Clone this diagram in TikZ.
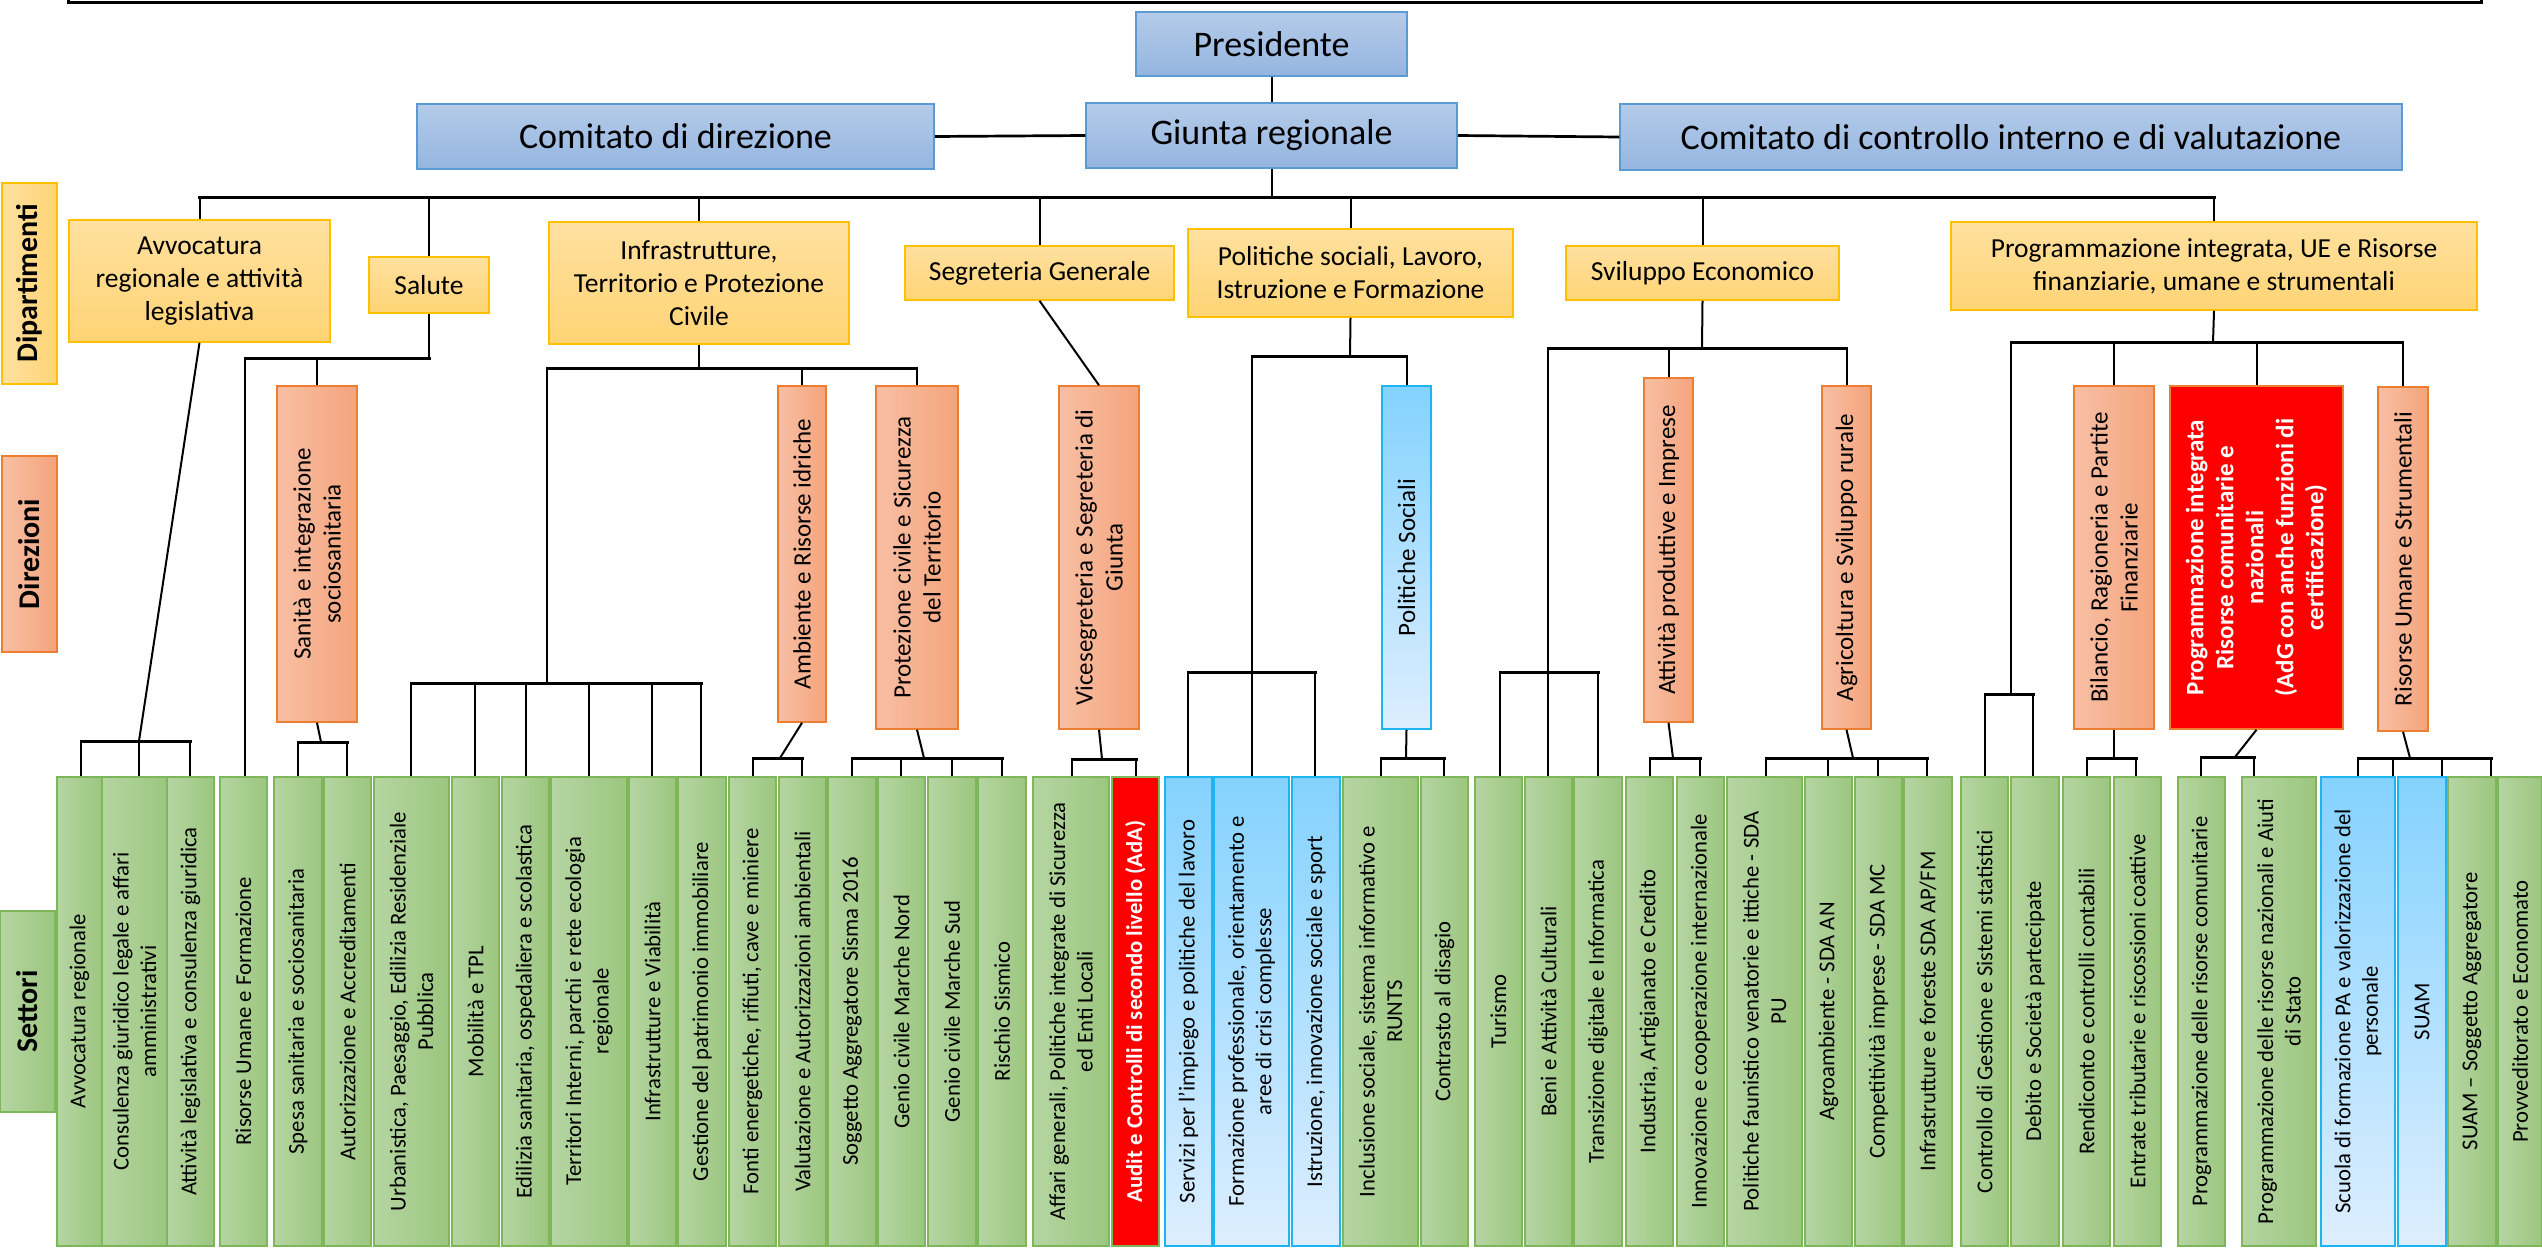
\documentclass[tikz,border=0pt]{standalone}
\usepackage{fontspec}
\setmainfont{Carlito}
\definecolor{topT}{HTML}{B4CBE9}
\definecolor{topB}{HTML}{95B5E0}
\definecolor{topD}{HTML}{5B9BD5}
\definecolor{depT}{HTML}{FFE09F}
\definecolor{depB}{HTML}{FFD475}
\definecolor{depD}{HTML}{FFC000}
\definecolor{dirL}{HTML}{F8BFA4}
\definecolor{dirR}{HTML}{F4A47C}
\definecolor{dirD}{HTML}{ED7D31}
\definecolor{setL}{HTML}{B5D5A2}
\definecolor{setR}{HTML}{9CC67F}
\definecolor{setD}{HTML}{7EB65A}
\definecolor{bluT}{HTML}{84D2FF}
\definecolor{bluB}{HTML}{DDEEFF}
\definecolor{bluD}{HTML}{1EB4F0}
\definecolor{redF}{HTML}{FF0000}
\tikzset{
 conn/.style={line width=2pt, black},
 busline/.style={line width=3pt, black, line cap=rect},
 topbox/.style={draw=topD, line width=1.5pt, top color=topT, bottom color=topB, inner sep=0pt, font=\fontsize{36}{43}\selectfont},
 depbox/.style={draw=depD, line width=1.5pt, top color=depT, bottom color=depB, inner sep=0pt, align=center, font=\fontsize{27.5}{33}\selectfont},
 dirbox/.style={rotate=90, draw=dirD, line width=1.5pt, left color=dirL, right color=dirR, inner sep=0pt, align=center, font=\fontsize{25}{30}\selectfont},
 dirblue/.style={rotate=90, draw=bluD, line width=1.5pt, top color=bluT, bottom color=bluB, inner sep=0pt, align=center, font=\fontsize{25}{30}\selectfont},
 dirred/.style={rotate=90, draw=dirD, line width=1.5pt, fill=redF, text=white, inner sep=0pt, align=center, font=\fontsize{25}{30}\selectfont\bfseries},
 setbox/.style={rotate=90, draw=setD, line width=1.2pt, left color=setL, right color=setR, inner sep=0pt, align=center, font=\fontsize{22.7}{27.5}\selectfont},
 setblue/.style={rotate=90, draw=bluD, line width=1.2pt, top color=bluT, bottom color=bluB, inner sep=0pt, align=center, font=\fontsize{22.7}{27.5}\selectfont},
 setred/.style={rotate=90, draw=setD, line width=1.2pt, fill=redF, text=white, inner sep=0pt, align=center, font=\fontsize{22.7}{27.5}\selectfont\bfseries},
 labdep/.style={rotate=90, draw=depD, line width=1.5pt, left color=depT, right color=depB, inner sep=0pt, font=\fontsize{30}{36}\selectfont\bfseries},
 labdir/.style={rotate=90, draw=dirD, line width=1.5pt, left color=dirL, right color=dirR, inner sep=0pt, font=\fontsize{30}{36}\selectfont\bfseries},
 labset/.style={rotate=90, draw=setD, line width=1.5pt, left color=setL, right color=setR, inner sep=0pt, font=\fontsize{30}{36}\selectfont\bfseries},
}
% horizontal box: name, style, x1, y1, x2, y2, text
\newcommand\boxH[7]{\node[#2, minimum width={(#5-#3)*1pt}, minimum height={(#6-#4)*1pt}] (#1) at ({(#3+#5)/2},{(#4+#6)/2}) {#7};}
% rotated box: name, style, x1, y1, x2, y2, text
\newcommand\boxV[7]{\node[#2, minimum width={(#6-#4)*1pt}, minimum height={(#5-#3)*1pt}] (#1) at ({(#3+#5)/2},{(#4+#6)/2}) {#7};}
% settore: [style] name x1 x2 text
\newcommand\sett[5][setbox]{\boxV{#2}{#1}{#3}{777}{#4}{1246}{#5}}
% drop line from bus point to top of a settore
\newcommand\drop[3]{\draw[conn] (#1,#2) -- (#1,#2 |- #3.east);}
\begin{document}
\begin{tikzpicture}[x=1pt,y=-1pt]
\useasboundingbox (0,0) rectangle (2542,1247);
\fill[white] (0,0) rectangle (2542,1247);
% frame (bottom part visible)
\draw[line width=3pt] (68,-30) -- (68,2.5) -- (2481,2.5) -- (2481,-30);

% top level
\boxH{pres}{topbox}{1136}{12}{1407}{76}{Presidente}
\boxH{comdir}{topbox}{417}{104}{934}{169}{Comitato di direzione}
\boxH{giunta}{topbox}{1086}{103}{1457}{168}{Giunta regionale}
\boxH{comctrl}{topbox}{1620}{104}{2402}{170}{Comitato di controllo interno e di valutazione}

% row labels
\boxV{labDip}{labdep}{2}{183}{57}{384}{Dipartimenti}
\boxV{labDir}{labdir}{2}{456}{57}{652}{Direzioni}
\boxV{labSet}{labset}{0}{911}{55}{1112}{Settori}

% dipartimenti
\boxH{d1}{depbox}{69}{220}{330}{342}{Avvocatura\\regionale e attività\\legislativa}
\boxH{d2}{depbox}{369}{257}{489}{313}{Salute}
\boxH{d3}{depbox}{549}{222}{849}{344}{Infrastrutture,\\Territorio e Protezione\\Civile}
\boxH{d4}{depbox}{905}{246}{1174}{300}{Segreteria Generale}
\boxH{d5}{depbox}{1188}{229}{1513}{317}{Politiche sociali, Lavoro,\\Istruzione e Formazione}
\boxH{d6}{depbox}{1566}{246}{1839}{300}{Sviluppo Economico}
\boxH{d7}{depbox}{1951}{222}{2477}{310}{Programmazione integrata, UE e Risorse\\finanziarie, umane e strumentali}

% direzioni
\boxV{r1}{dirbox}{277}{386}{357}{722}{Sanità e integrazione\\sociosanitaria}
\boxV{r2}{dirbox}{778}{386}{826}{722}{Ambiente e Risorse idriche}
\boxV{r3}{dirbox}{876}{386}{958}{729}{Protezione civile e Sicurezza\\del Territorio}
\boxV{r4}{dirbox}{1059}{386}{1139}{729}{Vicesegreteria e Segreteria di\\Giunta}
\boxV{r5}{dirblue}{1382}{386}{1431}{729}{Politiche Sociali}
\boxV{r6}{dirbox}{1644}{378}{1693}{722}{Attività produttive e Imprese}
\boxV{r7}{dirbox}{1822}{386}{1871}{729}{Agricoltura e Sviluppo rurale}
\boxV{r8}{dirbox}{2074}{386}{2154}{729}{Bilancio, Ragioneria e Partite\\Finanziarie}
\boxV{r9}{dirred}{2170}{386}{2343}{729}{Programmazione integrata\\Risorse comunitarie e\\nazionali\\(AdG con anche funzioni di\\certificazione)}
\boxV{r10}{dirbox}{2378}{387}{2428}{731}{Risorse Umane e Strumentali}

% settori
\sett{s1}{57}{102}{Avvocatura regionale}
\sett{s2}{102}{167}{Consulenza giuridico legale e affari\\amministrativi}
\sett{s3}{167}{214}{Attività legislativa e consulenza giuridica}
\sett{s4}{220}{267}{Risorse Umane e Formazione}
\sett{s5}{274}{322}{Spesa sanitaria e sociosanitaria}
\sett{s6}{324}{371}{Autorizzazione e Accreditamenti}
\sett{s7}{374}{449}{Urbanistica, Paesaggio, Edilizia Residenziale\\Pubblica}
\sett{s8}{452}{499}{Mobilità e TPL}
\sett{s9}{502}{549}{Edilizia sanitaria, ospedaliera e scolastica}
\sett{s10}{551}{627}{Territori Interni, parchi e rete ecologia\\regionale}
\sett{s11}{629}{676}{Infrastrutture e Viabilità}
\sett{s12}{678}{726}{Gestione del patrimonio immobiliare}
\sett{s13}{729}{776}{Fonti energetiche, rifiuti, cave e miniere}
\sett{s14}{779}{826}{Valutazione e Autorizzazioni ambientali}
\sett{s15}{828}{876}{Soggetto Aggregatore Sisma 2016}
\sett{s16}{878}{925}{Genio civile Marche Nord}
\sett{s17}{928}{976}{Genio civile Marche Sud}
\sett{s18}{978}{1026}{Rischio Sismico}
\sett{s19}{1033}{1109}{Affari generali, Politiche integrate di Sicurezza\\ed Enti Locali}
\sett[setred]{s20}{1112}{1159}{Audit e Controlli di secondo livello (AdA)}
\sett[setblue]{s21}{1165}{1212}{Servizi per l'impiego e politiche del lavoro}
\sett[setblue]{s22}{1214}{1289}{Formazione professionale, orientamento e\\aree di crisi complesse}
\sett[setblue]{s23}{1292}{1340}{Istruzione, innovazione sociale e sport}
\sett{s24}{1343}{1418}{Inclusione sociale, sistema informativo e\\RUNTS}
\sett{s25}{1421}{1468}{Contrasto al disagio}
\sett{s26}{1475}{1522}{Turismo}
\sett{s27}{1525}{1572}{Beni e Attività Culturali}
\sett{s28}{1574}{1622}{Transizione digitale e Informatica}
\sett{s29}{1626}{1673}{Industria, Artigianato e Credito}
\sett{s30}{1677}{1724}{Innovazione e cooperazione internazionale}
\sett{s31}{1727}{1802}{Politiche faunistico venatorie e ittiche - SDA\\PU}
\sett{s32}{1805}{1852}{Agroambiente - SDA AN}
\sett{s33}{1855}{1902}{Competitività imprese - SDA MC}
\sett{s34}{1904}{1952}{Infrastrutture e foreste SDA AP/FM}
\sett{s35}{1961}{2008}{Controllo di Gestione e Sistemi statistici}
\sett{s36}{2011}{2059}{Debito e Società partecipate}
\sett{s37}{2063}{2110}{Rendiconto e controlli contabili}
\sett{s38}{2114}{2161}{Entrate tributarie e riscossioni coattive}
\sett{s39}{2178}{2225}{Programmazione delle risorse comunitarie}
\sett{s40}{2242}{2316}{Programmazione delle risorse nazionali e Aiuti\\di Stato}
\sett[setblue]{s41}{2321}{2395}{Scuola di formazione PA e valorizzazione del\\personale}
\sett[setblue]{s42}{2398}{2446}{SUAM}
\sett{s43}{2448}{2496}{SUAM – Soggetto Aggregatore}
\sett{s44}{2498}{2542}{Provveditorato e Economato}

% ---------- connectors ----------
\draw[conn] (pres.south) -- (giunta.north);
\draw[line width=2.7pt] (comdir.east) -- (giunta.west);
\draw[line width=2.7pt] (giunta.east) -- (comctrl.west);
\coordinate (bus0) at (0,197);
\draw[conn] (giunta.south) -- (giunta.south |- bus0);
\draw[busline] (d1.north |- bus0) -- (d7.north |- bus0);
\foreach \n in {d1,d2,d3,d4,d5,d6,d7}{\draw[conn] (\n.north |- bus0) -- (\n.north);}

% Avvocatura
\coordinate (a1) at (139,741);
\draw[conn] (d1.south) -- (a1);
\draw[busline] (81,741) -- (190,741);
\drop{81}{741}{s1}\drop{139}{741}{s2}\drop{190}{741}{s3}

% Salute
\coordinate (b2) at (429,358);
\draw[conn] (d2.south) -- (b2);
\draw[busline] (245,358) -- (b2);
\drop{245}{358}{s4}
\draw[conn] (r1.east |- b2) -- (r1.east);
\coordinate (c1) at (321,742);
\draw[conn] (r1.west) -- (c1);
\draw[busline] (298,742) -- (347,742);
\drop{298}{742}{s5}\drop{347}{742}{s6}

% Infrastrutture
\coordinate (b3) at (699,368);
\draw[conn] (d3.south) -- (b3);
\draw[busline] (547,368) -- (916,368);
\draw[conn] (547,368) -- (547,683);
\draw[conn] (r2.east |- b3) -- (r2.east);
\draw[conn] (r3.east |- b3) -- (r3.east);
\draw[busline] (411,683) -- (701,683);
\drop{411}{683}{s7}\drop{475}{683}{s8}\drop{526}{683}{s9}\drop{589}{683}{s10}\drop{652}{683}{s11}\drop{701}{683}{s12}
\coordinate (c2) at (780,758);
\draw[conn] (r2.west) -- (c2);
\draw[busline] (753,758) -- (802,758);
\drop{753}{758}{s13}\drop{802}{758}{s14}
\coordinate (c3) at (924,758);
\draw[conn] (r3.west) -- (c3);
\draw[busline] (852,758) -- (1002,758);
\drop{852}{758}{s15}\drop{901}{758}{s16}\drop{952}{758}{s17}\drop{1002}{758}{s18}

% Segreteria
\draw[conn] (d4.south) -- (r4.east);
\coordinate (c4) at (1102,759);
\draw[conn] (r4.west) -- (c4);
\draw[busline] (1072,759) -- (1136,759);
\drop{1072}{759}{s19}\drop{1136}{759}{s20}

% Politiche sociali
\coordinate (b5) at (1350,356);
\draw[conn] (d5.south) -- (b5);
\draw[busline] (1252,356) -- (1406,356);
\draw[conn] (1252,356) -- (1252,672);
\draw[conn] (r5.east |- b5) -- (r5.east);
\draw[busline] (1188,672) -- (1315,672);
\drop{1188}{672}{s21}\drop{1252}{672}{s22}\drop{1315}{672}{s23}
\coordinate (c5) at (1406,758);
\draw[conn] (r5.west) -- (c5);
\draw[busline] (1381,758) -- (1444,758);
\drop{1381}{758}{s24}\drop{1444}{758}{s25}

% Sviluppo economico
\coordinate (b6) at (1702,348);
\draw[conn] (d6.south) -- (b6);
\draw[busline] (1548,348) -- (1846,348);
\draw[conn] (1548,348) -- (1548,672);
\draw[conn] (r6.east |- b6) -- (r6.east);
\draw[conn] (r7.east |- b6) -- (r7.east);
\draw[busline] (1500,672) -- (1598,672);
\drop{1500}{672}{s26}\drop{1548}{672}{s27}\drop{1598}{672}{s28}
\coordinate (c6) at (1673,758);
\draw[conn] (r6.west) -- (c6);
\draw[busline] (1650,758) -- (1700,758);
\drop{1650}{758}{s29}\drop{1700}{758}{s30}
\coordinate (c7) at (1853,758);
\draw[conn] (r7.west) -- (c7);
\draw[busline] (1766,758) -- (1927,758);
\drop{1766}{758}{s31}\drop{1828}{758}{s32}\drop{1878}{758}{s33}\drop{1927}{758}{s34}

% Programmazione
\coordinate (b7) at (2213,342);
\draw[conn] (d7.south) -- (b7);
\draw[busline] (2011,342) -- (2402,342);
\draw[conn] (2011,342) -- (2011,694);
\draw[conn] (r8.east |- b7) -- (r8.east);
\draw[conn] (r9.east |- b7) -- (r9.east);
\draw[conn] (r10.east |- b7) -- (r10.east);
\draw[busline] (1985,694) -- (2033,694);
\drop{1985}{694}{s35}\drop{2033}{694}{s36}
\coordinate (c8) at (2114,758);
\draw[conn] (r8.west) -- (c8);
\draw[busline] (2087,758) -- (2136,758);
\drop{2087}{758}{s37}\drop{2136}{758}{s38}
\coordinate (c9) at (2235,757);
\draw[conn] (r9.west) -- (c9);
\draw[busline] (2201,757) -- (2254,757);
\drop{2201}{757}{s39}\drop{2254}{757}{s40}
\coordinate (c10) at (2410,758);
\draw[conn] (r10.west) -- (c10);
\draw[busline] (2358,758) -- (2491,758);
\drop{2358}{758}{s41}\drop{2393}{758}{s42}\drop{2442}{758}{s43}\drop{2491}{758}{s44}
\end{tikzpicture}
\end{document}
